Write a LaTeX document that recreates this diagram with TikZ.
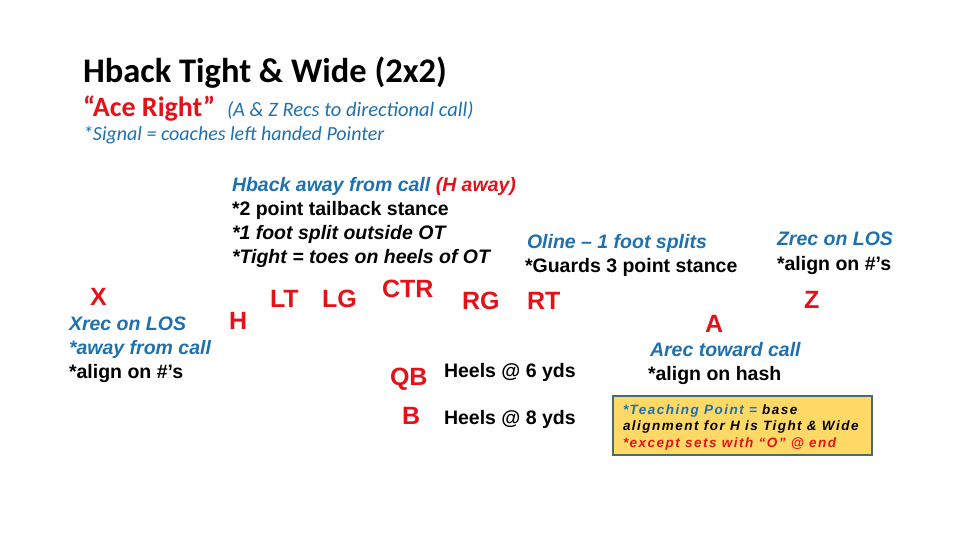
\documentclass[tikz,border=0pt]{standalone}
\usepackage{fontspec}
\setmainfont{Liberation Sans}
\newfontfamily\titlefont{Carlito}
\newfontfamily\boxfont[LetterSpace=11]{Liberation Sans}
\definecolor{cblue}{RGB}{30,112,175}
\definecolor{cred}{RGB}{228,18,24}
\definecolor{boxfill}{RGB}{255,217,102}
\definecolor{boxline}{RGB}{74,107,110}
\begin{document}
\begin{tikzpicture}[x=1pt,y=-1pt,
  t/.style={anchor=base west,inner sep=0pt,outer sep=0pt},
  body/.style={t,font=\fontsize{19.5}{23}\selectfont\bfseries},
  bodyit/.style={body,font=\fontsize{19.5}{23}\selectfont\bfseries\itshape},
  bluenote/.style={bodyit,text=cblue},
  posn/.style={t,text=cred,font=\fontsize{25}{28}\selectfont\bfseries},
  boxtxt/.style={t,font=\fontsize{13.5}{15}\selectfont\boxfont\bfseries\itshape}]
\useasboundingbox (0,0) rectangle (960,540);
% title block
\node[t,font=\fontsize{34.5}{38}\selectfont\titlefont\bfseries] (title) at (83,83) {Hback Tight \& Wide (2x2)};
\node[t,text=cred,font=\fontsize{28}{30}\selectfont\titlefont\bfseries] (ace) at (83,117) {“Ace Right”};
\node[t,text=cblue,font=\fontsize{20.5}{22}\selectfont\titlefont\itshape] (recs) at (227,117) {(A \& Z Recs to directional call)};
\node[t,text=cblue,font=\fontsize{20}{22}\selectfont\titlefont\itshape] (signal) at (83,141) {*Signal = coaches left handed Pointer};
% Hback notes
\node[bluenote] (hb1) at (232,191) {Hback away from call \textcolor{cred}{(H away)}};
\node[body] (hb2) at (232,215) {*2 point tailback stance};
\node[bodyit] (hb3) at (232,239) {*1 foot split outside OT};
\node[bodyit] (hb4) at (232,263) {*Tight = toes on heels of OT};
% Oline notes
\node[bluenote] (ol1) at (527,248) {Oline – 1 foot splits};
\node[body] (ol2) at (525,272) {*Guards 3 point stance};
% Zrec notes
\node[bluenote] (zr1) at (777,245) {Zrec on LOS};
\node[body] (zr2) at (777,270) {*align on \#’s};
% Xrec notes
\node[bluenote] (xr1) at (69,330) {Xrec on LOS};
\node[bluenote] (xr2) at (69,354) {*away from call};
\node[body] (xr3) at (69,378) {*align on \#’s};
% Arec notes
\node[bluenote] (ar1) at (650,356) {Arec toward call};
\node[body] (ar2) at (648,380) {*align on hash};
% QB / B notes
\node[body] (qbn) at (444,377) {Heels @ 6 yds};
\node[body] (bn) at (444,424) {Heels @ 8 yds};
% positions
\node[posn] (X) at (90,305) {X};
\node[posn] (H) at (229,329) {H};
\node[posn] (LT) at (270,307) {LT};
\node[posn] (LG) at (322,307) {LG};
\node[posn] (CTR) at (382,297) {CTR};
\node[posn] (RG) at (462,309) {RG};
\node[posn] (RT) at (527,309) {RT};
\node[posn] (Z) at (804,308) {Z};
\node[posn] (A) at (705,332) {A};
\node[posn] (QB) at (390,385) {QB};
\node[posn] (B) at (402,424) {B};
% teaching point box
\draw[fill=boxfill,draw=boxline,line width=1.2pt] (613,396) rectangle (872,455);
\node[boxtxt] (tp1) at (623,414) {\textcolor{cblue}{*Teaching Point =} base};
\node[boxtxt] (tp2) at (623,430) {alignment for H is Tight \& Wide};
\node[boxtxt,text=cred] (tp3) at (623,447) {*except sets with “O” @ end};
\end{tikzpicture}
\end{document}
